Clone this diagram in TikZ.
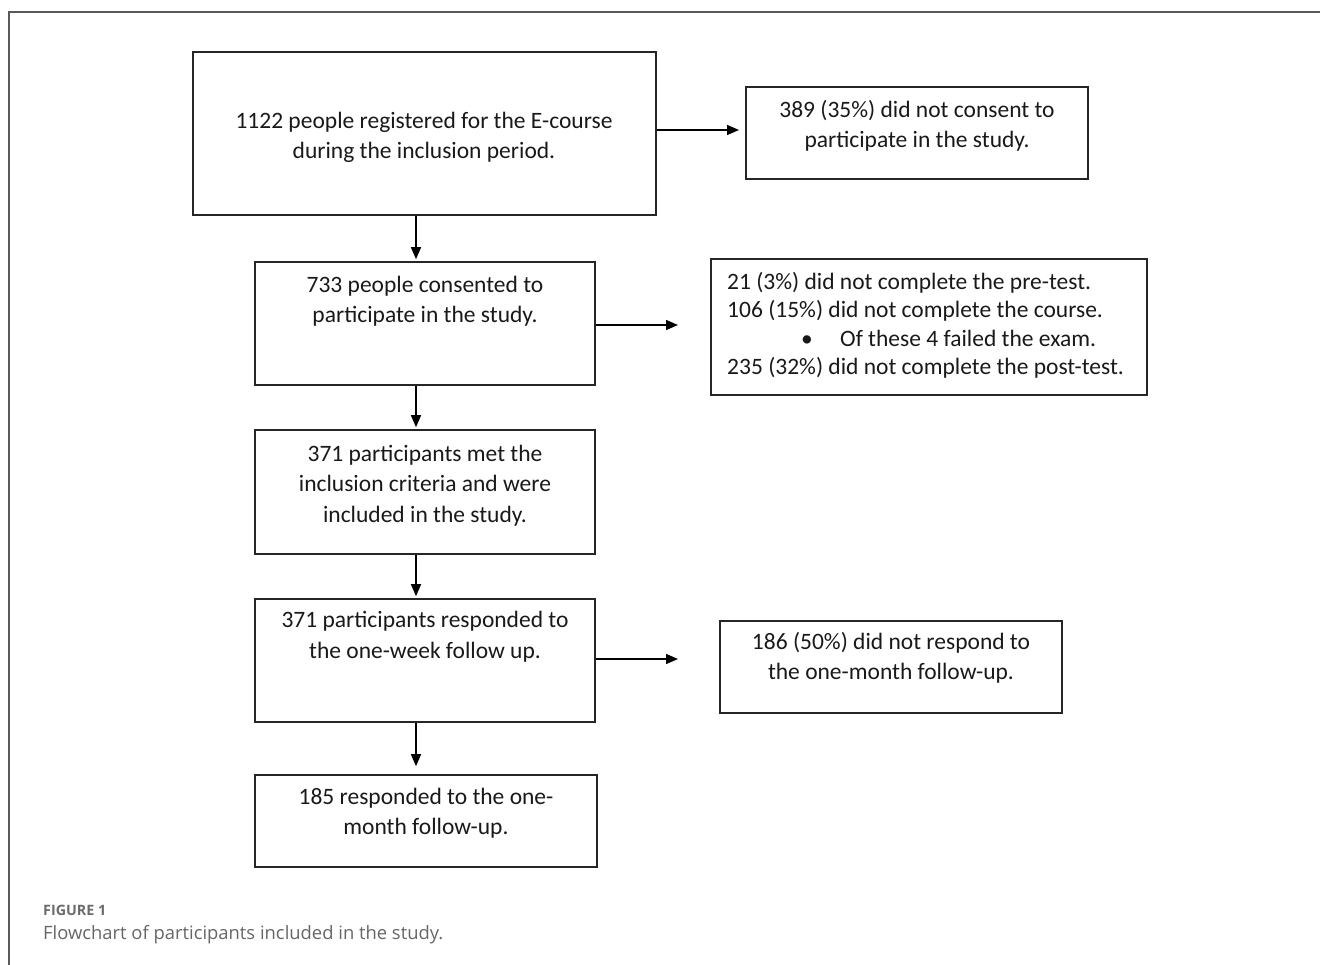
\documentclass[tikz,border=0pt]{standalone}
\usepackage{fontspec}
\setmainfont{Carlito}
\newfontfamily\capfont{Open Sans}
\usetikzlibrary{arrows.meta}
\begin{document}
\begin{tikzpicture}[x=1pt,y=-1pt,
  box/.style={draw=black!85, line width=1.6pt, inner sep=0pt},
  txt/.style={font=\fontsize{23.5}{30.5}\selectfont, align=center, inner sep=0pt, text=black!90},
  arr/.style={line width=1.4pt, -{Triangle[length=12pt,width=10pt]}},
  frame/.style={draw=black!65, line width=1.3pt}]
\useasboundingbox (0,0) rectangle (1320,965);
\draw[frame] (9,965) -- (9,12) -- (1320,12);
% boxes
\node[box, minimum width=463, minimum height=163] (a) at (424.5,133.5) {};
\node[box, minimum width=342, minimum height=92]  (b) at (917,133) {};
\node[box, minimum width=340, minimum height=123] (c) at (425,323.5) {};
\node[box, minimum width=436, minimum height=136] (d) at (929,327) {};
\node[box, minimum width=340, minimum height=124] (e) at (425,492) {};
\node[box, minimum width=340, minimum height=123] (f) at (425,660.5) {};
\node[box, minimum width=342, minimum height=92]  (g) at (891,667) {};
\node[box, minimum width=342, minimum height=92]  (h) at (426,821) {};
% texts
\node[txt] (ta) at (424,137.5) {1122 people registered for the E-course\\during the inclusion period.};
\node[txt] (tb) at (917,126) {389 (35\%) did not consent to\\participate in the study.};
\node[txt] (tc) at (425,301) {733 people consented to\\participate in the study.};
\node[txt, font=\fontsize{23.5}{28.5}\selectfont, anchor=north west, align=left] (td) at (727,272) {21 (3\%) did not complete the pre-test.\\106 (15\%) did not complete the course.\\\rlap{\hspace*{74pt}\textbullet}\hspace*{113pt}Of these 4 failed the exam.\\235 (32\%) did not complete the post-test.};
\node[txt] (te) at (425,485.5) {371 participants met the\\inclusion criteria and were\\included in the study.};
\node[txt] (tf) at (425,636.5) {371 participants responded to\\the one-week follow up.};
\node[txt] (tg) at (891,658) {186 (50\%) did not respond to\\the one-month follow-up.};
\node[txt] (th) at (426,813) {185 responded to the one-\\month follow-up.};
% connectors
\coordinate (aend) at (739,130);
\coordinate (cend) at (678,325);
\coordinate (fend) at (678,659);
\draw[arr] (a.east |- aend) -- (aend);
\draw[arr] (c.east |- cend) -- (cend);
\draw[arr] (f.east |- fend) -- (fend);
\draw[arr] ([xshift=-8.5pt]a.south) -- ([xshift=-9pt,yshift=2pt]c.north);
\draw[arr] ([xshift=-9pt]c.south) -- ([xshift=-9pt,yshift=2pt]e.north);
\draw[arr] ([xshift=-9pt]e.south) -- ([xshift=-9pt,yshift=2pt]f.north);
\draw[arr] ([xshift=-9pt]f.south) -- ([xshift=-10pt,yshift=8pt]h.north);
% caption
\node[anchor=west, inner sep=0pt, font=\capfont\bfseries\fontsize{14.3}{17}\selectfont, text=black!58] (fig) at (43,910) {FIGURE 1};
\node[anchor=west, inner sep=0pt, font=\capfont\fontsize{18.4}{22}\selectfont, text=black!60] (cap) at (43,935) {Flowchart of participants included in the study.};
\end{tikzpicture}
\end{document}
